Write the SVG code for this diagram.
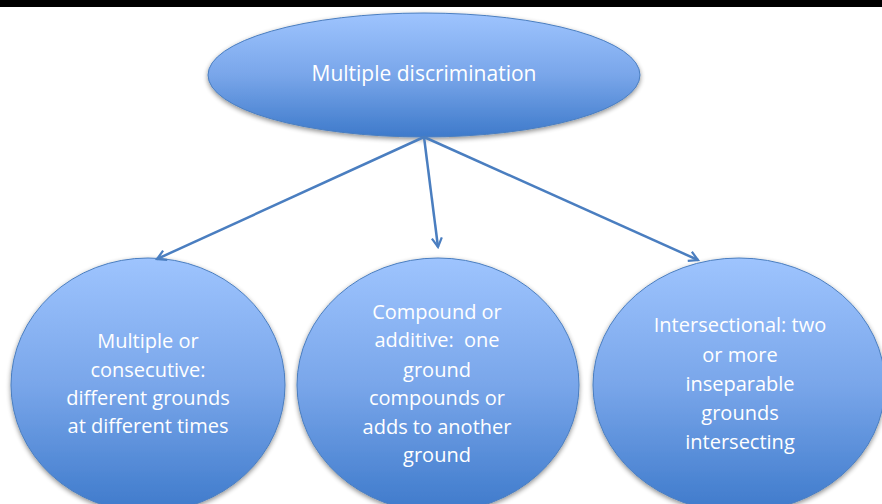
<svg xmlns="http://www.w3.org/2000/svg" width="882" height="504" viewBox="0 0 882 504">
<defs>
<linearGradient id="g" x1="0" y1="0" x2="0" y2="1">
<stop offset="0" stop-color="#9EC4FE"/>
<stop offset="0.5" stop-color="#79A6EA"/>
<stop offset="1" stop-color="#3E7ACB"/>
</linearGradient>
<filter id="sh" x="-10%" y="-10%" width="120%" height="130%">
<feGaussianBlur in="SourceAlpha" stdDeviation="2.5"/>
<feOffset dx="0" dy="2" result="b"/>
<feComponentTransfer><feFuncA type="linear" slope="0.45"/></feComponentTransfer>
<feMerge><feMergeNode/><feMergeNode in="SourceGraphic"/></feMerge>
</filter>
<marker id="ah" viewBox="0 0 12 12" refX="10" refY="6" markerWidth="12" markerHeight="12" markerUnits="userSpaceOnUse" orient="auto">
<path d="M1,1 L10,6 L1,11" fill="none" stroke="#4A7EC0" stroke-width="2.2"/>
</marker>
</defs>
<style>
.n{fill:url(#g);stroke:#4A7EC0;stroke-width:1;filter:url(#sh)}
.t{font-family:"Open Sans","Liberation Sans",sans-serif;font-size:20px;fill:#FFFFFF;text-anchor:middle}
.tt{font-size:21px}
.c{stroke:#4A7EC0;stroke-width:2.5;fill:none;marker-end:url(#ah)}
</style>
<rect x="0" y="0" width="882" height="504" fill="#FFFFFF"/>
<rect x="0" y="0" width="882" height="7" fill="#000000"/>
<g id="top">
<ellipse class="n" cx="424" cy="75" rx="216" ry="62"/>
<text class="t tt" x="424" y="81">Multiple discrimination</text>
</g>
<g id="left">
<ellipse class="n" cx="148" cy="385" rx="137" ry="127"/>
<text class="t" x="148" y="348">Multiple or</text>
<text class="t" x="148" y="377">consecutive:</text>
<text class="t" x="148" y="405">different grounds</text>
<text class="t" x="148" y="433">at different times</text>
</g>
<g id="middle">
<ellipse class="n" cx="438" cy="385" rx="141" ry="127"/>
<text class="t" x="437" y="319">Compound or</text>
<text class="t" x="437" y="347" xml:space="preserve">additive:  one</text>
<text class="t" x="437" y="377">ground</text>
<text class="t" x="437" y="405">compounds or</text>
<text class="t" x="437" y="434">adds to another</text>
<text class="t" x="437" y="462">ground</text>
</g>
<g id="right">
<ellipse class="n" cx="739" cy="385" rx="146" ry="127"/>
<text class="t" x="740" y="332">Intersectional: two</text>
<text class="t" x="740" y="362">or more</text>
<text class="t" x="740" y="391">inseparable</text>
<text class="t" x="740" y="420">grounds</text>
<text class="t" x="740" y="449">intersecting</text>
</g>
<g id="connectors">
<line class="c" x1="424" y1="137" x2="157" y2="259"/>
<line class="c" x1="424" y1="137" x2="438" y2="247"/>
<line class="c" x1="424" y1="137" x2="698" y2="260"/>
</g>
</svg>
